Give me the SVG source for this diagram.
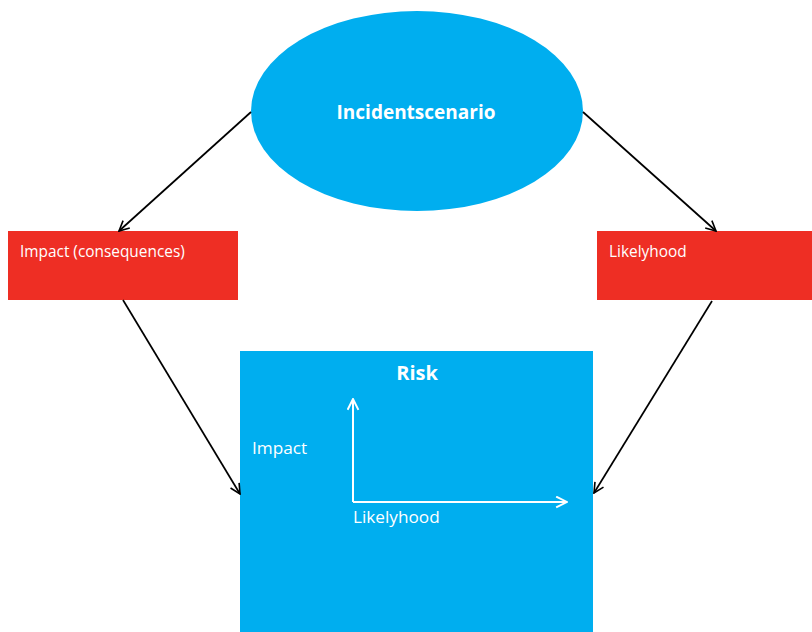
<svg xmlns="http://www.w3.org/2000/svg" width="812" height="632" viewBox="0 0 812 632">
<defs>
<marker id="ah" viewBox="0 0 12 12" refX="11" refY="6" markerWidth="12" markerHeight="12" markerUnits="userSpaceOnUse" orient="auto">
<path d="M1,1 L11,6 L1,11" fill="none" stroke="#000" stroke-width="1.6"/>
</marker>
<marker id="ahw" viewBox="0 0 12 12" refX="11" refY="6" markerWidth="13" markerHeight="13" markerUnits="userSpaceOnUse" orient="auto">
<path d="M1,1 L11,6 L1,11" fill="none" stroke="#fff" stroke-width="1.8"/>
</marker>
</defs>
<style>
.blue{fill:#00AEEF}
.red{fill:#EE2E24}
.t{font-family:"Open Sans","Noto Sans","DejaVu Sans",sans-serif;fill:#fff}
.b{font-weight:bold}
.s{font-size:15.4px}
.m{font-size:17.2px}
.c{stroke:#000;stroke-width:1.7;fill:none;marker-end:url(#ah)}
.ax{stroke:#fff;stroke-width:2;fill:none;marker-end:url(#ahw)}
</style>
<rect width="812" height="632" fill="#fff"/>
<g id="incidentscenario">
<ellipse class="blue" cx="417" cy="111" rx="166" ry="100"/>
<text class="t b" x="416" y="119" text-anchor="middle" font-size="19">Incidentscenario</text>
</g>
<g id="impact">
<rect class="red" x="8" y="231" width="230" height="69"/>
<text class="t s" x="20" y="257">Impact (consequences)</text>
</g>
<g id="likelyhood">
<rect class="red" x="597" y="231" width="215" height="69"/>
<text class="t s" x="609" y="257">Likelyhood</text>
</g>
<g id="risk">
<rect class="blue" x="240" y="351" width="353" height="281"/>
<text class="t b" x="417" y="380" text-anchor="middle" font-size="20">Risk</text>
<text class="t m" x="252" y="454">Impact</text>
<text class="t m" x="353" y="523">Likelyhood</text>
<path class="ax" d="M353,502 L353,399"/>
<path class="ax" d="M353,502 L567,502"/>
</g>
<g id="connectors">
<path class="c" d="M251,112 L119,231"/>
<path class="c" d="M583,112 L716,231"/>
<path class="c" d="M123,300 L240,494"/>
<path class="c" d="M712,301 L594,493"/>
</g>
</svg>
